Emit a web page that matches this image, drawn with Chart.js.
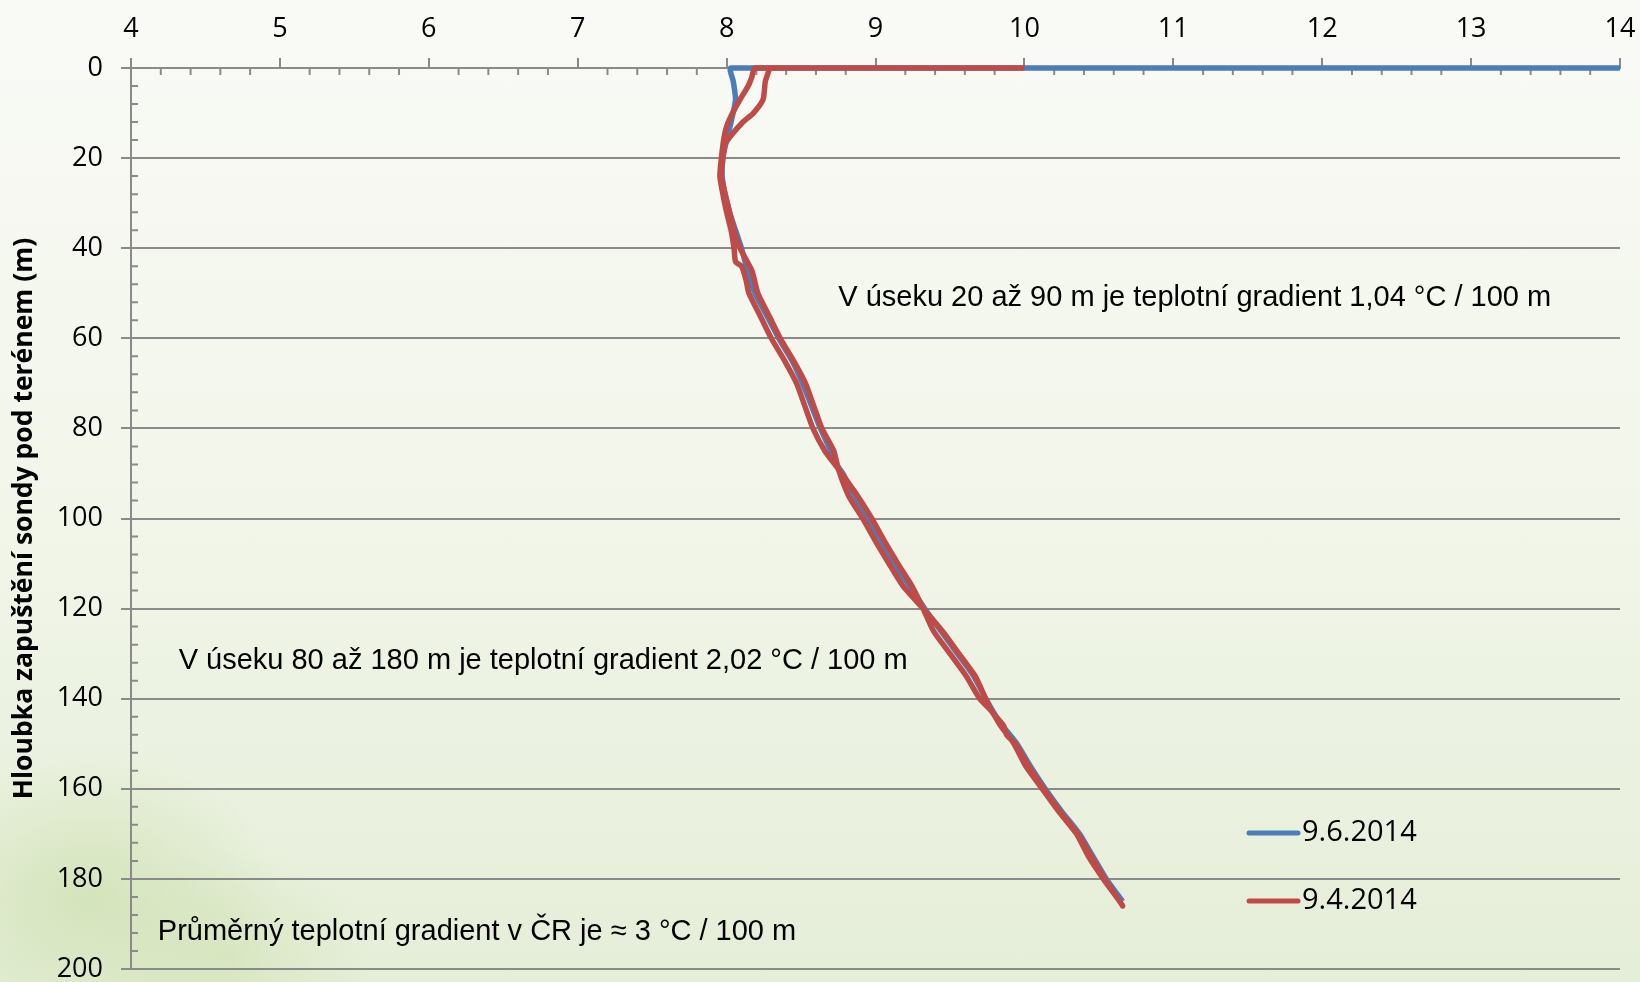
<!DOCTYPE html>
<html>
<head>
<meta charset="utf-8">
<script src="https://cdn.jsdelivr.net/npm/chart.js@4.4.1/dist/chart.umd.min.js"></script>
<style>
  html, body { margin: 0; padding: 0; }
  #wrap {
    width: 1640px; height: 982px; position: relative;
    background:
      radial-gradient(ellipse 190px 150px at 90px 900px, rgba(196, 218, 160, 0.55), rgba(196, 218, 160, 0) 100%),
      radial-gradient(ellipse 140px 110px at 230px 960px, rgba(205, 224, 172, 0.5), rgba(205, 224, 172, 0) 100%),
      linear-gradient(to bottom, #f9faf6 0%, #f2f6ea 50%, #e5eed8 100%);
  }
</style>
</head>
<body>
<div id="wrap"><canvas id="chart"></canvas></div>
<script>
// 9.6.2014 probe run: depth (m) / temperature (°C)
const blueDepth = [0, 0, 3, 7, 12, 16, 20, 24, 28, 32, 36, 40, 45, 50, 55, 60, 65, 70, 75, 80, 85, 88, 90, 95, 100,
  105, 110, 115, 120, 125, 130, 135, 140, 145, 150, 155, 160, 165, 170, 175, 180, 185]
const blueTemp = [14, 8.03, 8.045, 8.06, 8.03, 8.00, 7.975, 7.97, 7.99, 8.02, 8.06, 8.10, 8.14, 8.19, 8.27, 8.35, 8.44,
  8.51, 8.57, 8.63, 8.70, 8.74, 8.78, 8.86, 8.95, 9.04, 9.12, 9.23, 9.33, 9.44, 9.55, 9.66, 9.74, 9.83, 9.95, 10.04,
  10.14, 10.25, 10.37, 10.46, 10.55, 10.66]

// 9.4.2014 probe run, going down
const redDownDepth = [0, 0, 2, 4, 7, 10, 13, 16, 20, 24, 28, 32, 36, 40, 43, 44, 47, 50, 55, 60, 65, 70, 75, 80, 85, 89,
  95, 100, 105, 110, 115, 120, 125, 130, 135, 140, 143, 146, 150, 155, 160, 165, 170, 175, 180, 185]
const redDownTemp = [10, 8.19, 8.17, 8.145, 8.09, 8.04, 8.00, 7.98, 7.965, 7.955, 7.975, 8.00, 8.03, 8.05, 8.06, 8.10,
  8.13, 8.15, 8.225, 8.30, 8.39, 8.47, 8.525, 8.58, 8.66, 8.75, 8.88, 8.975, 9.06, 9.15, 9.245, 9.32, 9.39, 9.50, 9.61,
  9.70, 9.785, 9.84, 9.93, 10.01, 10.12, 10.23, 10.35, 10.43, 10.53, 10.64]
// ... and coming back up
const redUpDepth = [186, 180, 175, 170, 165, 160, 155, 150, 148, 146, 143, 140, 135, 130, 125, 120, 115, 110, 105, 100,
  95, 89, 85, 80, 75, 70, 65, 60, 55, 50, 45, 40, 36, 32, 28, 24, 20, 17, 15, 12, 10, 7, 3, 0]
const redUpTemp = [10.66, 10.54, 10.45, 10.36, 10.24, 10.13, 10.03, 9.94, 9.88, 9.86, 9.785, 9.74, 9.67, 9.56, 9.45, 9.32,
  9.185, 9.09, 9.0, 8.915, 8.82, 8.75, 8.72, 8.64, 8.585, 8.53, 8.45, 8.36, 8.285, 8.21, 8.17, 8.09, 8.05, 8.02, 7.99,
  7.965, 7.975, 7.99, 8.03, 8.11, 8.18, 8.245, 8.26, 8.29]

const seriesLabels = ['9.6.2014', '9.4.2014']
const seriesColors = ['#4a7ebb', '#be4b48']

const notes = [
  { text: 'V úseku 20 až 90 m je teplotní gradient 1,04 °C / 100 m', x: 8.75, y: 51 },
  { text: 'V úseku 80 až 180 m je teplotní gradient 2,02 °C / 100 m', x: 4.32, y: 131.6 },
  { text: 'Průměrný teplotní gradient v ČR je ≈ 3 °C / 100 m', x: 4.18, y: 191.8 }
]

const axisGray = '#8a8a8a'

const toPoints = (temps, depths) => temps.map((t, i) => ({ x: t, y: depths[i] }))

const extras = {
  id: 'extras',
  beforeDatasetsDraw(chart) {
    const { ctx, chartArea: a, scales: { x, y } } = chart
    ctx.save()
    ctx.strokeStyle = axisGray
    ctx.lineWidth = 2
    ctx.beginPath()
    // minor ticks, pointing into the plot
    for (let i = 1; i < 50; i++) {
      if (i % 5 === 0) continue
      const px = x.getPixelForValue(4 + i * 0.2)
      ctx.moveTo(px, a.top)
      ctx.lineTo(px, a.top + 7)
      const py = y.getPixelForValue(i * 4)
      ctx.moveTo(a.left, py)
      ctx.lineTo(a.left + 7, py)
    }
    ctx.stroke()
    ctx.restore()
  },
  afterDraw(chart) {
    const { ctx, scales: { x, y } } = chart
    ctx.save()
    ctx.fillStyle = '#000'
    ctx.textBaseline = 'middle'
    ctx.textAlign = 'left'
    ctx.font = '29px "Liberation Sans", Arial, sans-serif'
    notes.forEach(n => ctx.fillText(n.text, x.getPixelForValue(n.x), y.getPixelForValue(n.y)))

    // legend
    ctx.font = '29px "Open Sans", sans-serif'
    ctx.lineCap = 'round'
    ctx.lineWidth = 5
    chart.data.datasets.forEach((ds, i) => {
      const ly = 833 + i * 68
      ctx.strokeStyle = ds.borderColor
      ctx.beginPath()
      ctx.moveTo(1249, ly)
      ctx.lineTo(1298, ly)
      ctx.stroke()
      ctx.fillText(ds.label, 1302, ly)
    })
    ctx.restore()
  }
}

Chart.defaults.font.family = '"Open Sans", sans-serif'
Chart.defaults.color = '#000'

new Chart(document.getElementById('chart'), {
  type: 'scatter',
  data: {
    datasets: [
      {
        label: seriesLabels[0],
        data: toPoints(blueTemp, blueDepth),
        borderColor: seriesColors[0],
        order: 1
      },
      {
        label: seriesLabels[1],
        data: toPoints(redDownTemp, redDownDepth).concat(toPoints(redUpTemp, redUpDepth)),
        borderColor: seriesColors[1],
        order: 0
      }
    ]
  },
  options: {
    responsive: true,
    maintainAspectRatio: false,
    animation: false,
    layout: { padding: { left: 0, right: 20, top: 0, bottom: 13 } },
    datasets: {
      scatter: {
        showLine: true,
        pointRadius: 0,
        borderWidth: 5.5,
        tension: 0.2,
        clip: { left: 0, top: 3, right: 0, bottom: 0 }
      }
    },
    plugins: {
      legend: { display: false },
      tooltip: { enabled: false }
    },
    scales: {
      x: {
        type: 'linear',
        position: 'top',
        min: 4,
        max: 14,
        afterFit: s => { s.height = 68; s.paddingLeft = 0; s.paddingRight = 0 },
        ticks: { stepSize: 1, padding: 12, font: { size: 27 }, maxRotation: 0 },
        grid: { drawOnChartArea: false, color: axisGray, lineWidth: 2, tickLength: 10 },
        border: { color: axisGray, width: 2 }
      },
      y: {
        type: 'linear',
        reverse: true,
        min: 0,
        max: 200,
        afterFit: s => { s.width = 131; s.paddingTop = 0; s.paddingBottom = 0 },
        ticks: { stepSize: 20, padding: 18, font: { size: 27 } },
        grid: { color: axisGray, lineWidth: 2, tickLength: 10 },
        border: { color: axisGray, width: 2 },
        title: {
          display: true,
          text: 'Hloubka zapuštění sondy pod terénem (m)',
          font: { size: 26.5, weight: 'bold' },
          padding: { top: 9, bottom: 0 }
        }
      }
    }
  },
  plugins: [extras]
})
</script>
</body>
</html>
